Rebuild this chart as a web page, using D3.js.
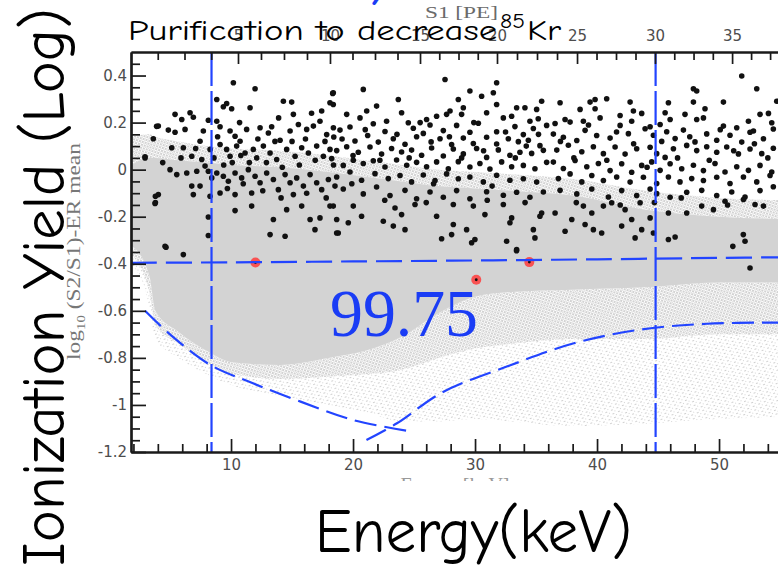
<!DOCTYPE html>
<html>
<head>
<meta charset="utf-8">
<script src="https://cdn.jsdelivr.net/npm/d3@7"></script>
<style>
  body { margin: 0; background: #fff; }
  svg { display: block; }
</style>
</head>
<body>
<div id="chart"></div>
<script>
// ---- tick values / labels ----
const energyTicks = [10, 20, 30, 40, 50];
const energyLabels = ["10", "20", "30", "40", "50"];
const yTicks = [0.4, 0.2, 0, -0.2, -0.4, -0.6, -0.8, -1, -1.2];
const yLabels = ["0.4", "0.2", "0", "-0.2", "-0.4", "-0.6", "-0.8", "-1", "-1.2"];
const s1Ticks = [5, 10, 15, 20, 25, 30, 35];
const s1Labels = ["5", "10", "15", "20", "25", "30", "35"];
// S1 [PE] -> energy [keV]
const s1Pe  = [0, 5, 10, 15, 20, 25, 30, 35, 40];
const s1Kev = [1.8, 10.57, 18.11, 25.49, 31.8, 38.36, 44.75, 51.07, 57.3];

// ---- ER band (grey) ----
const bandE      = [1.8, 3.3, 3.8, 5.7, 8, 10.2, 14, 18, 21, 24, 27, 30, 33, 38, 44, 50, 56];
const coreTop    = [0.02, 0.05, 0.05, 0.04, 0.03, 0.02, 0.01, -0.01, -0.03, -0.05, -0.07, -0.08, -0.09, -0.11, -0.17, -0.2, -0.21];
const coreBottom = [-0.32, -0.45, -0.6, -0.69, -0.77, -0.82, -0.83, -0.8, -0.77, -0.71, -0.61, -0.54, -0.52, -0.51, -0.5, -0.48, -0.48];
const fringeTop  = [0.14, 0.15, 0.14, 0.12, 0.1, 0.09, 0.08, 0.06, 0.04, 0.02, 0.0, -0.01, -0.02, -0.04, -0.09, -0.12, -0.13];
const speckInner = [-0.36, -0.52, -0.66, -0.74, -0.82, -0.87, -0.89, -0.88, -0.87, -0.85, -0.8, -0.76, -0.74, -0.72, -0.72, -0.7, -0.7];
const speckOuter = [-0.4, -0.58, -0.72, -0.8, -0.87, -0.92, -0.96, -1.0, -1.03, -1.07, -1.07, -1.06, -1.07, -1.09, -1.08, -1.06, -1.05];

// ---- cut lines ----
const cutEnergy = [8.4, 44.8];
const acceptE = [1.8, 10, 20, 30, 40, 50, 56];
const acceptY = [-0.396, -0.394, -0.39, -0.386, -0.381, -0.375, -0.372];
const lowCurveE = [2.95, 5, 8.3, 11.8, 15.7, 20, 24.8];
const lowCurveY = [-0.6, -0.7, -0.83, -0.908, -0.986, -1.064, -1.113];
const riseCurveE = [21.1, 23.6, 27.3, 32.6, 38.1, 43.5, 49, 55];
const riseCurveY = [-1.149, -1.078, -0.947, -0.837, -0.738, -0.68, -0.655, -0.65];

// ---- events below the acceptance line (red) ----
const flagged = [[12.0, -0.395], [30.1, -0.468], [34.45, -0.393]];

// ---- background events [keV, log10(S2/S1)-ER mean] ----
const events = [
[10.19,0.369],[11.97,0.344],[8.83,0.298],[9.64,0.281],[9.37,0.267],[10.05,0.259],[11.56,0.263],[14.29,0.291],[14.97,0.287],[18.33,0.324],
[18.11,0.284],[17.43,0.249],[15.11,0.235],[5.41,0.235],[5.96,0.213],[6.64,0.242],[6.91,0.223],[8.14,0.21],[8.83,0.206],[4.04,0.185],
[4.86,0.168],[5.41,0.159],[6.23,0.171],[7.73,0.164],[3.63,0.131],[5.14,0.093],[6.09,0.093],[2.95,0.05],[7.46,0.121],[6.78,0.057],
[7.6,0.043],[8.28,0.086],[9.1,0.182],[9.92,0.164],[10.33,0.142],[10.74,0.121],[11.28,0.171],[12.38,0.178],[13.06,0.156],[13.33,0.182],
[14.02,0.125],[14.84,0.164],[15.52,0.192],[16.2,0.171],[16.75,0.185],[17.29,0.206],[17.84,0.149],[18.39,0.178],[9.1,0.107],[9.64,0.086],
[9.92,0.057],[10.46,0.1],[11.15,0.071],[11.83,0.086],[12.1,0.05],[12.65,0.1],[13.2,0.071],[13.74,0.043],[14.56,0.086],[15.25,0.057],
[15.79,0.093],[16.34,0.071],[17.02,0.1],[17.57,0.057],[18.11,0.086],[7.87,0.015],[8.14,-0.007],[8.42,-0.035],[7.19,-0.007],[6.37,-0.014],
[5.55,-0.021],[5.0,0.0],[8.83,-0.014],[9.37,-0.028],[9.78,-0.049],[10.33,-0.014],[10.87,-0.035],[11.42,0.0],[11.97,-0.028],[12.38,-0.056],
[12.92,-0.014],[13.47,-0.042],[13.88,-0.085],[14.43,-0.021],[14.84,-0.056],[15.38,-0.035],[15.93,-0.07],[16.48,-0.021],[17.02,-0.056],[17.43,-0.085],
[17.98,-0.042],[18.52,-0.07],[6.78,-0.07],[7.46,-0.07],[6.91,-0.106],[4.04,-0.106],[3.77,-0.144],[8.28,-0.113],[9.1,-0.099],[10.33,-0.106],
[11.69,-0.099],[11.69,-0.155],[10.33,-0.174],[8.14,-0.201],[8.14,-0.28],[13.47,-0.212],[14.56,-0.17],[15.11,-0.106],[13.2,-0.276],[14.43,-0.283],
[15.79,-0.155],[16.48,-0.212],[16.88,-0.255],[17.29,-0.205],[18.11,-0.155],[18.66,-0.269],[4.59,-0.326],[6.09,-0.361],[2.95,0.055],[3.9,0.184],
[3.8,-0.113],[3.8,-0.14],[4.67,-0.33],
[8.6,0.05],[9.4,0.02],[10.1,0.03],[10.8,0.06],[11.5,0.03],[12.9,0.03],[13.6,0.12],[14.2,0.01],[15.0,0.12],[15.6,0.02],
[16.1,0.13],[16.9,0.04],[17.7,0.12],[18.4,0.02],[8.9,0.14],[12.2,0.13],[10.7,0.2],[13.9,0.22],[16.6,0.24],[11.0,-0.06],
[12.6,-0.09],[14.1,-0.12],[16.2,-0.1],[17.8,-0.12],[9.7,-0.08],[7.1,0.09],[5.9,0.05],[4.4,0.03],
[27.54,0.383],[31.77,0.369],[18.38,0.327],[20.84,0.341],[29.58,0.334],[31.5,0.327],[30.54,0.312],[23.71,0.298],[28.63,0.298],[35.46,0.291],
[18.38,0.277],[31.77,0.277],[21.93,0.27],[21.12,0.249],[23.98,0.242],[27.95,0.249],[29.04,0.263],[34.09,0.263],[33.41,0.263],[35.05,0.256],
[19.48,0.235],[20.57,0.22],[22.75,0.206],[24.53,0.199],[26.03,0.213],[26.85,0.227],[27.67,0.235],[28.9,0.235],[30.95,0.242],[32.32,0.22],
[33.0,0.227],[34.5,0.206],[35.18,0.216],
[18.93,0.168],[19.75,0.181],[21.66,0.195],[22.62,0.162],[24.94,0.176],[25.76,0.154],[26.31,0.19],[27.4,0.166],[28.49,0.188],[29.58,0.159],
[30.27,0.197],[31.77,0.161],[33.27,0.183],[33.96,0.149],[34.78,0.175],[35.87,0.188],
[18.42,0.139],[20.16,0.122],[21.2,0.145],[22.07,0.117],[23.3,0.131],[24.26,0.108],[25.21,0.14],[26.4,0.118],[27.13,0.131],[28.08,0.107],
[29.04,0.134],[29.86,0.111],[30.95,0.138],[31.77,0.109],[32.73,0.131],[33.55,0.119],[34.37,0.125],[35.32,0.102],
[18.66,0.081],[19.48,0.097],[20.43,0.074],[21.39,0.096],[22.34,0.066],[23.16,0.09],[23.98,0.075],[24.8,0.083],[25.62,0.061],[26.44,0.092],
[27.4,0.058],[28.22,0.088],[29.04,0.067],[30.13,0.09],[30.95,0.052],[31.91,0.084],[32.86,0.061],[33.68,0.074],[34.64,0.069],[35.6,0.082],
[18.25,0.047],[19.2,0.018],[20.02,0.04],[20.84,0.026],[21.66,0.038],[22.62,0.011],[23.57,0.041],[24.4,0.019],[25.21,0.031],[26.03,0.012],
[26.85,0.033],[27.81,0.004],[28.63,0.034],[29.58,0.011],[30.4,0.026],[31.22,0.003],[32.18,0.033],[33.0,0.012],[33.96,0.018],[34.91,0.004],
[35.87,0.031],
[18.66,-0.031],[19.75,-0.01],[20.7,-0.045],[21.8,-0.017],[22.89,-0.038],[23.85,-0.025],[24.8,-0.052],[25.76,-0.023],[26.72,-0.046],[27.67,-0.018],
[28.63,-0.039],[29.58,-0.031],[30.68,-0.052],[31.77,-0.024],[32.86,-0.045],[33.96,-0.039],[35.05,-0.053],
[19.2,-0.082],[20.84,-0.103],[21.93,-0.074],[23.03,-0.11],[24.26,-0.088],[25.21,-0.124],[26.31,-0.095],[27.4,-0.117],[28.49,-0.089],[29.58,-0.124],
[30.95,-0.094],[32.32,-0.109],[33.41,-0.096],[34.5,-0.117],[35.6,-0.095],
[18.38,-0.155],[20.02,-0.155],[20.7,-0.198],[22.48,-0.219],[23.44,-0.163],[23.98,-0.191],[25.08,-0.148],[26.85,-0.198],[28.22,-0.148],[29.86,-0.155],
[30.81,-0.191],[32.32,-0.148],[33.0,-0.205],[35.46,-0.184],[18.66,-0.212],[19.61,-0.226],[18.79,-0.269],[23.3,-0.24],[24.26,-0.255],[28.22,-0.233],
[29.31,-0.255],[32.86,-0.226],[34.78,-0.255],[27.26,-0.294],[28.08,-0.276],[29.72,-0.311],[29.99,-0.297],[32.59,-0.304],[33.41,-0.34],[34.91,-0.29],
[35.32,-0.198],[33.4,-0.345],
[19.1,0.13],[20.0,0.06],[21.0,0.17],[22.2,0.04],[23.6,0.15],[24.6,0.05],[25.5,0.2],[26.6,-0.06],[27.9,0.14],[28.9,0.05],
[29.9,0.2],[30.7,0.08],[31.4,-0.07],[32.5,0.16],[33.3,0.05],[34.2,0.1],[35.2,0.15],[19.9,-0.06],[22.6,-0.13],[26.0,-0.14],
[31.0,-0.13],[34.1,-0.14],
[51.86,0.398],[53.09,0.344],[47.9,0.344],[48.17,0.334],[36.97,0.284],[39.43,0.287],[39.84,0.298],[40.79,0.301],[42.71,0.287],[45.85,0.284],
[47.9,0.287],[50.36,0.287],[54.73,0.291],[38.61,0.256],[39.84,0.259],[41.89,0.23],[42.98,0.249],[43.66,0.239],[45.58,0.242],[47.21,0.235],
[48.85,0.259],[53.36,0.235],[54.05,0.239],
[36.56,0.196],[37.38,0.213],[37.79,0.202],[38.88,0.206],[40.25,0.22],[41.89,0.188],[42.84,0.206],[44.35,0.182],[45.17,0.192],[45.99,0.213],
[48.17,0.213],[48.72,0.22],[50.36,0.185],[51.45,0.178],[52.41,0.206],[52.82,0.164],[54.32,0.199],
[36.42,0.151],[37.24,0.138],[38.34,0.124],[39.02,0.167],[39.97,0.145],[41.07,0.134],[42.57,0.153],[43.94,0.174],[44.62,0.146],[45.71,0.161],
[46.4,0.132],[47.08,0.168],[48.03,0.118],[48.99,0.152],[49.81,0.125],[50.9,0.146],[51.86,0.117],[52.54,0.159],[53.64,0.131],[54.45,0.173],
[36.7,0.083],[37.65,0.104],[38.75,0.076],[39.7,0.097],[40.52,0.068],[41.48,0.096],[42.3,0.066],[43.25,0.089],[44.35,0.095],[44.89,0.068],
[45.58,0.052],[46.26,0.089],[47.35,0.103],[48.17,0.081],[48.99,0.097],[49.81,0.074],[50.63,0.096],[51.59,0.067],[52.54,0.088],[53.5,0.068],
[54.45,0.091],
[36.42,0.032],[37.24,0.005],[38.2,0.039],[39.16,0.012],[40.11,0.026],[41.07,-0.004],[42.02,0.025],[42.84,-0.011],[43.66,0.018],[44.48,0.033],
[45.17,-0.003],[45.99,0.025],[46.94,0.004],[47.9,0.019],[48.72,-0.004],[49.67,0.026],[50.49,-0.01],[51.45,0.012],[52.41,-0.003],[53.36,0.018],
[54.32,-0.01],
[36.83,-0.038],[37.79,-0.018],[38.75,-0.052],[39.57,-0.025],[40.52,-0.046],[41.61,-0.031],[42.71,-0.053],[43.8,-0.032],[44.89,-0.059],[45.85,-0.031],
[46.8,-0.052],[47.76,-0.038],[48.72,-0.046],[49.81,-0.032],[50.9,-0.059],[52.0,-0.031],[53.09,-0.052],[54.18,-0.025],
[36.97,-0.088],[38.34,-0.103],[39.57,-0.082],[40.93,-0.116],[42.02,-0.089],[43.25,-0.11],[44.35,-0.082],[44.89,-0.102],[45.99,-0.117],[47.35,-0.096],
[48.58,-0.088],[49.81,-0.11],[51.04,-0.095],[52.13,-0.116],[53.36,-0.089],[54.45,-0.073],
[36.56,-0.184],[37.93,-0.212],[38.88,-0.155],[39.57,-0.184],[40.52,-0.155],[41.2,-0.141],[42.3,-0.17],[43.53,-0.141],[44.35,-0.205],[45.85,-0.184],
[47.35,-0.184],[48.58,-0.155],[49.54,-0.17],[50.49,-0.134],[52.0,-0.127],[52.95,-0.148],[53.64,-0.155],
[37.38,-0.262],[39.02,-0.233],[39.7,-0.255],[40.38,-0.269],[42.02,-0.24],[42.84,-0.212],[43.12,-0.29],[43.66,-0.255],[44.62,-0.269],[45.85,-0.297],
[46.4,-0.286],[51.99,-0.276],[52.13,-0.304],[51.13,-0.326],[52.54,-0.418],
[37.0,0.12],[38.1,0.05],[39.3,0.19],[40.8,0.04],[41.6,0.16],[43.0,0.11],[44.1,0.01],[45.3,0.12],[46.6,0.05],[47.6,0.14],
[49.2,0.04],[50.1,0.17],[51.2,0.08],[52.9,0.11],[54.0,0.05],[44.7,-0.14],[46.9,-0.12],[50.7,-0.15],[38.3,-0.14],[41.9,-0.15]
];

// ---- layout ----
const W = 778, H = 569;
const margin = {top: 52, left: 131, bottom: 452};
const xMin = 1.8, xMax = 55.5;

const svg = d3.select("#chart").append("svg")
    .attr("width", W)
    .attr("height", H);

svg.append("rect").attr("width", W).attr("height", H).attr("fill", "#fff");

const x = d3.scaleLinear()
    .domain([xMin, xMax])
    .range([margin.left, margin.left + 12.2 * (xMax - xMin)]);

const y = d3.scaleLinear()
    .domain([-1.2, 0.5])
    .range([margin.bottom, margin.top]);

const s1Scale = d3.scaleLinear()
    .domain(s1Pe)
    .range(s1Kev.map(x));

const defs = svg.append("defs");
defs.append("clipPath").attr("id", "plotClip")
  .append("rect")
    .attr("x", margin.left).attr("y", margin.top)
    .attr("width", W - margin.left).attr("height", margin.bottom - margin.top);
defs.append("clipPath").attr("id", "lowClip")
  .append("rect").attr("x", 0).attr("y", 0).attr("width", W).attr("height", 481);

// speckle patterns for the band edges
const pDense = defs.append("pattern").attr("id", "speckDense")
    .attr("width", 3).attr("height", 3).attr("patternUnits", "userSpaceOnUse")
    .attr("patternTransform", "rotate(17)");
pDense.append("rect").attr("width", 2).attr("height", 2).attr("fill", "#d2d2d2");
pDense.append("rect").attr("x", 2).attr("y", 2).attr("width", 1).attr("height", 1).attr("fill", "#d8d8d8");

const pSparse = defs.append("pattern").attr("id", "speckSparse")
    .attr("width", 6).attr("height", 4).attr("patternUnits", "userSpaceOnUse")
    .attr("patternTransform", "rotate(-23)");
pSparse.append("rect").attr("width", 2).attr("height", 1).attr("fill", "#d0d0d0");
pSparse.append("rect").attr("x", 3).attr("y", 2).attr("width", 1).attr("height", 1).attr("fill", "#d6d6d6");

const plot = svg.append("g").attr("clip-path", "url(#plotClip)");

// band
const bandArea = (lo, hi) => d3.area()
    .x((d, i) => x(bandE[i]))
    .y0((d, i) => y(lo[i]))
    .y1((d, i) => y(hi[i]))
    .curve(d3.curveMonotoneX);

plot.append("path").datum(bandE)
    .attr("d", bandArea(speckOuter, speckInner))
    .attr("fill", "url(#speckSparse)");
plot.append("path").datum(bandE)
    .attr("d", bandArea(speckInner, coreBottom))
    .attr("fill", "url(#speckDense)");
plot.append("path").datum(bandE)
    .attr("d", bandArea(coreTop, fringeTop))
    .attr("fill", "url(#speckDense)");
plot.append("path").datum(bandE)
    .attr("d", bandArea(coreBottom, coreTop))
    .attr("fill", "#d3d3d3");

// events
plot.append("g")
  .selectAll("circle")
  .data(events)
  .join("circle")
    .attr("cx", d => x(d[0]))
    .attr("cy", d => y(d[1]))
    .attr("r", 2.8)
    .attr("fill", "#111");

// flagged events
const red = plot.append("g");
red.selectAll(".halo")
  .data(flagged)
  .join("circle")
    .attr("class", "halo")
    .attr("cx", d => x(d[0]))
    .attr("cy", d => y(d[1]))
    .attr("r", 5)
    .attr("fill", "#ff3b3b")
    .attr("opacity", 0.85);
red.selectAll(".core")
  .data(flagged)
  .join("circle")
    .attr("class", "core")
    .attr("cx", d => x(d[0]))
    .attr("cy", d => y(d[1]))
    .attr("r", 1.4)
    .attr("fill", "#111");

// blue cut lines
const blue = "#2244ff";
const line = d3.line()
    .x(d => x(d[0]))
    .y(d => y(d[1]))
    .curve(d3.curveCatmullRom);

plot.append("path")
    .datum(d3.zip(acceptE, acceptY))
    .attr("d", line)
    .attr("fill", "none").attr("stroke", blue).attr("stroke-width", 2.2)
    .attr("stroke-dasharray", "26,9");
plot.append("path")
    .datum(d3.zip(lowCurveE, lowCurveY))
    .attr("d", line)
    .attr("fill", "none").attr("stroke", blue).attr("stroke-width", 2.2)
    .attr("stroke-dasharray", "22,8");
plot.append("path")
    .datum(d3.zip(riseCurveE, riseCurveY))
    .attr("d", line)
    .attr("fill", "none").attr("stroke", blue).attr("stroke-width", 2.2)
    .attr("stroke-dasharray", "22,8");
plot.selectAll(".cut")
  .data(cutEnergy)
  .join("line")
    .attr("class", "cut")
    .attr("x1", d => x(d)).attr("x2", d => x(d))
    .attr("y1", y(0.5)).attr("y2", y(-1.2))
    .attr("stroke", blue).attr("stroke-width", 2.2)
    .attr("stroke-dasharray", "34,5");

// ---- axes ----
function styleAxis(g) {
  g.select(".domain").attr("stroke", "#1a1a1a").attr("stroke-width", 2.2);
  g.selectAll(".tick line").attr("stroke", "#1a1a1a").attr("stroke-width", 1.7);
  g.selectAll(".tick text")
      .attr("fill", "#4d4d4d")
      .attr("font-family", "DejaVu Sans, sans-serif")
      .attr("font-size", 15);
}

const bottomY = y(-1.2);
svg.append("g")
    .attr("transform", `translate(0,${bottomY})`)
    .call(d3.axisBottom(x).tickValues(d3.range(2, 56, 2).filter(v => v % 10 !== 0))
        .tickSize(-8).tickSizeOuter(0).tickFormat(""))
    .call(styleAxis);
svg.append("g")
    .attr("transform", `translate(0,${bottomY})`)
    .call(d3.axisBottom(x).tickValues(energyTicks)
        .tickSize(-13).tickSizeOuter(0).tickPadding(7)
        .tickFormat((d, i) => energyLabels[i]))
    .call(styleAxis);

svg.append("g")
    .attr("transform", `translate(${margin.left},0)`)
    .call(d3.axisLeft(y).tickValues(d3.range(-1.15, 0.5, 0.05).filter(v => Math.abs(v * 5 - Math.round(v * 5)) > 1e-6))
        .tickSize(-9).tickSizeOuter(0).tickFormat(""))
    .call(styleAxis);
svg.append("g")
    .attr("transform", `translate(${margin.left},0)`)
    .call(d3.axisLeft(y).tickValues(yTicks)
        .tickSize(-15).tickSizeOuter(0).tickPadding(4)
        .tickFormat((d, i) => yLabels[i]))
    .call(styleAxis);

svg.append("g")
    .attr("transform", `translate(0,${margin.top})`)
    .call(d3.axisTop(s1Scale).tickValues(d3.range(1.25, 40, 1.25).filter(v => v % 5 !== 0))
        .tickSize(-8).tickSizeOuter(0).tickFormat(""))
    .call(styleAxis);
svg.append("g")
    .attr("transform", `translate(0,${margin.top})`)
    .call(d3.axisTop(s1Scale).tickValues(s1Ticks)
        .tickSize(-12).tickSizeOuter(0).tickPadding(11)
        .tickFormat((d, i) => s1Labels[i]))
    .call(styleAxis);

// ---- original plot titles (grey) ----
svg.append("text")
    .attr("x", 425).attr("y", 18)
    .attr("font-family", "Liberation Serif, serif").attr("font-size", 17)
    .attr("fill", "#6a6a6a")
    .attr("textLength", 73).attr("lengthAdjust", "spacingAndGlyphs")
    .text("S1 [PE]");

const ylab = svg.append("text")
    .attr("transform", "translate(80,360) rotate(-90)")
    .attr("font-family", "Liberation Serif, serif").attr("font-size", 19)
    .attr("fill", "#777")
    .attr("textLength", 217).attr("lengthAdjust", "spacingAndGlyphs");
ylab.append("tspan").text("log");
ylab.append("tspan").attr("font-size", 12).attr("dy", 5).text("10");
ylab.append("tspan").attr("dy", -5).text(" (S2/S1)-ER mean");

svg.append("text")
    .attr("clip-path", "url(#lowClip)")
    .attr("x", 455).attr("y", 492)
    .attr("text-anchor", "middle")
    .attr("font-family", "Liberation Serif, serif").attr("font-size", 20)
    .attr("fill", "#999")
    .text("Energy [keV]");

// ---- slide texts ----
const slideFont = "'Comic Sans MS', 'Comic Neue', Lato, 'Noto Sans', sans-serif";

svg.append("text")
    .attr("x", 128).attr("y", 40)
    .attr("font-family", slideFont).attr("font-size", 29)
    .attr("fill", "#000")
    .attr("textLength", 369).attr("lengthAdjust", "spacingAndGlyphs")
    .text("Purification to decrease");
svg.append("text")
    .attr("x", 500).attr("y", 28)
    .attr("font-family", slideFont).attr("font-size", 20)
    .attr("fill", "#000")
    .attr("textLength", 25).attr("lengthAdjust", "spacingAndGlyphs")
    .text("85");
svg.append("text")
    .attr("x", 527).attr("y", 40)
    .attr("font-family", slideFont).attr("font-size", 29)
    .attr("fill", "#000")
    .attr("textLength", 34).attr("lengthAdjust", "spacingAndGlyphs")
    .text("Kr");

svg.append("text")
    .attr("transform", "translate(64,566) rotate(-90)")
    .attr("font-family", slideFont).attr("font-size", 60)
    .attr("fill", "#000")
    .attr("textLength", 558).attr("lengthAdjust", "spacingAndGlyphs")
    .text("Ionization Yield (Log)");

svg.append("text")
    .attr("x", 315).attr("y", 552)
    .attr("font-family", slideFont).attr("font-size", 62)
    .attr("fill", "#000")
    .attr("textLength", 317).attr("lengthAdjust", "spacingAndGlyphs")
    .text("Energy(keV)");

svg.append("text")
    .attr("x", 330).attr("y", 336)
    .attr("font-family", "Liberation Serif, 'Times New Roman', serif").attr("font-size", 68)
    .attr("fill", "#1a3cf5")
    .attr("textLength", 148).attr("lengthAdjust", "spacingAndGlyphs")
    .text("99.75");

// fragment of a blue heading cut off by the top edge
svg.append("text")
    .attr("x", 372).attr("y", -2)
    .attr("font-family", slideFont).attr("font-size", 40)
    .attr("font-style", "italic").attr("font-weight", "bold")
    .attr("fill", "#1a3cf5")
    .text("y");
</script>
</body>
</html>
